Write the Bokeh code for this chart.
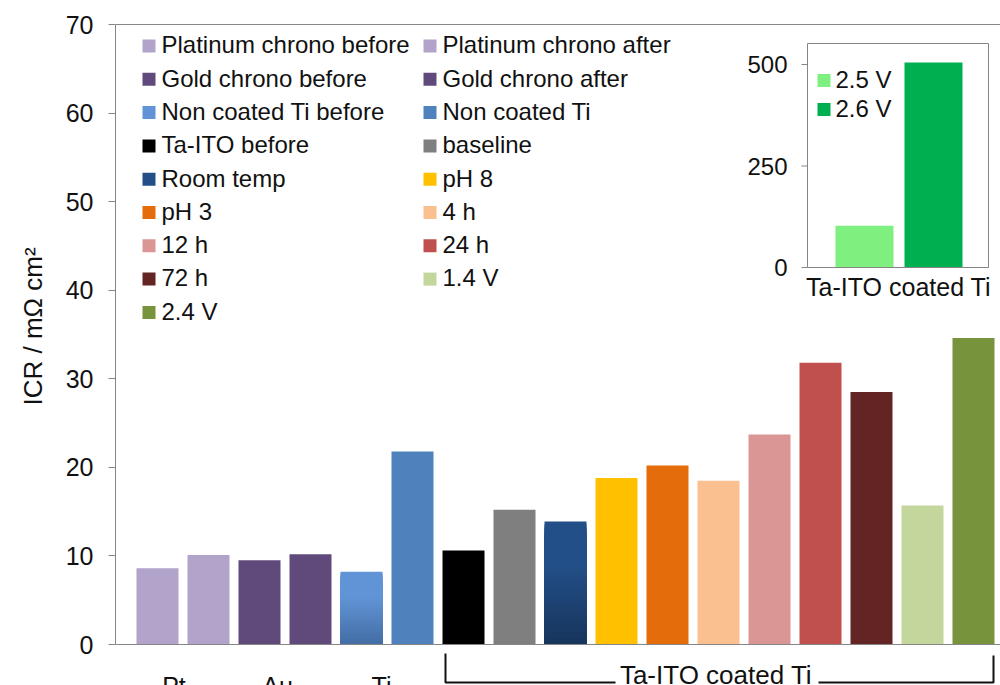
import numpy as np
from bokeh.plotting import figure
from bokeh.models import Range1d, FixedTicker, Span, Title
from bokeh.core.properties import value
from bokeh.embed import file_html
from bokeh.resources import INLINE

# ---------------- data ----------------
series = ["Platinum chrono before", "Platinum chrono after", "Gold chrono before",
          "Gold chrono after", "Non coated Ti before", "Non coated Ti", "Ta-ITO before",
          "baseline", "Room temp", "pH 8", "pH 3", "4 h", "12 h", "24 h", "72 h",
          "1.4 V", "2.4 V"]
icr = [8.6, 10.1, 9.5, 10.2, 8.2, 21.8, 10.6, 15.2, 13.9, 18.8, 20.2, 18.5, 23.7,
       31.8, 28.5, 15.7, 34.6]
colors = ["#B1A3CA", "#B1A3CA", "#604A7B", "#604A7B", "#5E92D3", "#4F81BD", "#000000",
          "#7F7F7F", "#1F497D", "#FFC000", "#E46C0A", "#FAC090", "#D99694", "#C0504D",
          "#632523", "#C3D69B", "#77933C"]
# gradient fills (top colour, bottom colour) for two bars
gradients = {"Non coated Ti before": ("#6194D6", "#436DA3"),
             "Room temp": ("#234F88", "#16355C")}
y_ticks = [0, 10, 20, 30, 40, 50, 60, 70]
group_labels = ["Pt", "Au", "Ti"]
bracket_label = "Ta-ITO coated Ti"
y_label = "ICR / mΩ cm²"

inset_series = ["2.5 V", "2.6 V"]
inset_icr = [103, 505]
inset_colors = ["#7FF07F", "#00B050"]
inset_ticks = [0, 250, 500]
inset_label = "Ta-ITO coated Ti"

# ---------------- layout (page pixels) ----------------
FONT = value("Liberation Sans")
TXT = "#111111"
AX = "#868686"
W, H = 1000, 685
FL, FR, FT, FB = 115, 1000, 20, 685     # frame edges in page px

# main scales
Y0 = 644.0                # page y of value 0
S = (644.0 - 24.0) / 70   # px per unit
C0 = 157.0                # centre of first bar
P = 51.0                  # bar pitch
x_range = Range1d((FL - C0) / P, (FR - C0) / P)
y_range = Range1d((Y0 - FB) / S, (Y0 - FT) / S)

p = figure(width=W, height=H, x_range=x_range, y_range=y_range,
           x_axis_location=None, toolbar_location=None, output_backend="svg",
           min_border_left=FL, min_border_right=0, min_border_top=FT,
           min_border_bottom=0, outline_line_color=None)
p.grid.visible = False

# overlay ranges
p.extra_x_ranges["px"] = Range1d(FL, FR)
p.extra_y_ranges["py"] = Range1d(FB, FT)
IX0, IP = 864.0, 69.0
p.extra_x_ranges["ix"] = Range1d((FL - IX0) / IP, (FR - IX0) / IP)
IY0 = 267.0
IS = (267.0 - 64.0) / 500.0
p.extra_y_ranges["iy"] = Range1d((IY0 - FB) / IS, (IY0 - FT) / IS)

# y axis
ya = p.yaxis[0]
ya.bounds = (0, 70)
ya.ticker = FixedTicker(ticks=y_ticks)
ya.axis_line_color = AX
ya.major_tick_line_color = AX
ya.minor_tick_line_color = None
ya.major_tick_in = 0
ya.major_tick_out = 7
ya.major_label_standoff = 15
ya.major_label_text_font = "Liberation Sans"
ya.major_label_text_font_size = "25px"
ya.major_label_text_color = TXT

# y axis title (a side title so it can sit off-centre like the original)
p.add_layout(Title(text=y_label, align="left", offset=FB - 405, vertical_align="middle",
                   standoff=28, text_font="Liberation Sans", text_font_size="26px",
                   text_font_style="normal", text_color=TXT), "left")

# top line
p.add_layout(Span(location=70, dimension="width", line_color=AX, line_width=1))

# bars
BW = 42 / P
xs = list(range(len(series)))
plain = [i for i in xs if series[i] not in gradients]
p.vbar(x=[xs[i] for i in plain], top=[icr[i] for i in plain], bottom=0, width=BW,
       fill_color=[colors[i] for i in plain], line_color=None)


def hex2rgb(h):
    return np.array([int(h[k:k + 2], 16) for k in (1, 3, 5)], dtype=float)


NS = 40
for name, (ctop, cbot) in gradients.items():
    i = series.index(name)
    v = icr[i]
    t, b = hex2rgb(ctop), hex2rgb(cbot)
    lefts, rights, bots, tops, cols = [], [], [], [], []
    for k in range(NS, 0, -1):          # painter: tall slices first
        f = (k - 0.5) / NS
        g = min(1.0, f / 0.65)
        c = b + (t - b) * g
        lefts.append(i - BW / 2)
        rights.append(i + BW / 2)
        bots.append(0)
        tops.append(v * k / NS)
        cols.append("#%02x%02x%02x" % tuple(int(round(q)) for q in c))
    p.quad(left=lefts, right=rights, bottom=bots, top=tops, fill_color=cols,
           line_color=None)

p.add_layout(Span(location=0, dimension="width", line_color=AX, line_width=1))


def text(xv, yv, tx, size, align="left", xr="px", yr="py"):
    p.text(x=xv, y=yv, text=tx, x_range_name=xr, y_range_name=yr, text_font=FONT,
           text_font_size=f"{size}px", text_align=align, text_baseline="middle",
           text_color=TXT)


# legend (two columns, row-major)
LS = 24
lx_sq = [148.5, 429.5]
lx_tx = [161.0, 442.0]
leg_x, leg_y, leg_tx, leg_ty, leg_c = [], [], [], [], []
for i, name in enumerate(series):
    r, c = divmod(i, 2)
    leg_x.append(lx_sq[c])
    leg_y.append(45.5 + 33.3 * r)
    leg_tx.append(lx_tx[c])
    leg_ty.append(44.3 + 33.3 * r)
    leg_c.append(gradients[name][0] if name in gradients else colors[i])
p.scatter(x=leg_x, y=leg_y, marker="square", size=13, fill_color=leg_c, line_color=None,
          x_range_name="px", y_range_name="py")
text(leg_tx, leg_ty, series, LS)

# group labels and bracket
text([173.5, 277.0, 381.0], [685.0] * 3, group_labels, 25, "center")
p.multi_line(xs=[[445, 445, 615], [818, 993, 993]],
             ys=[[653, 682, 682], [682, 682, 655]],
             x_range_name="px", y_range_name="py", line_color=TXT, line_width=2)
text([715.5], [674.0], [bracket_label], 26, "center")

# ---------------- inset ----------------
p.quad(left=[807], right=[988], top=[43], bottom=[267],
       fill_color="white", line_color=AX, line_width=1,
       x_range_name="px", y_range_name="py")
p.vbar(x=[0, 1], top=inset_icr, bottom=0, width=58 / IP, fill_color=inset_colors,
       line_color=None, x_range_name="ix", y_range_name="iy")
p.segment(x0=[801] * 3, x1=[807] * 3, y0=inset_ticks, y1=inset_ticks,
          line_color=AX, line_width=1, x_range_name="px", y_range_name="iy")
p.segment(x0=[807], x1=[988], y0=[0], y1=[0], line_color=AX, line_width=1,
          x_range_name="px", y_range_name="iy")
text([787] * 3, inset_ticks, [str(t) for t in inset_ticks], 24, "right", yr="iy")
p.scatter(x=[823.5] * 2, y=[80.0, 109.0], marker="square", size=13,
          fill_color=inset_colors, line_color=None, x_range_name="px", y_range_name="py")
text([835.0] * 2, [78.7, 107.8], inset_series, 24)
text([898.0], [286.0], [inset_label], 25, "center")

open("out.html", "w").write(file_html(p, INLINE))
